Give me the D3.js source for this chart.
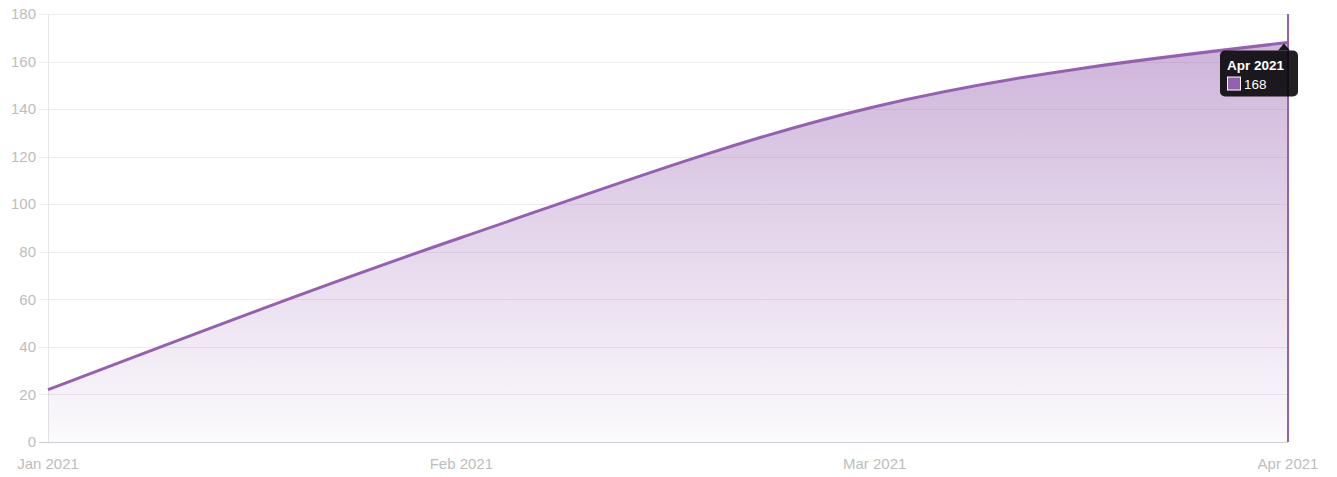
<!DOCTYPE html>
<html>
<head>
<meta charset="utf-8">
<script src="https://cdn.jsdelivr.net/npm/d3@7"></script>
<style>
  body { margin: 0; background: #fff; }
  svg { display: block; font-family: "Liberation Sans", Arial, sans-serif; }
</style>
</head>
<body>
<div id="chart"></div>
<script>
// data
const months = ["Jan 2021", "Feb 2021", "Mar 2021", "Apr 2021"];
const values = [22, 86, 141, 168];
const yTicks = [0, 20, 40, 60, 80, 100, 120, 140, 160, 180];

const width = 1337, height = 477;
const margin = {top: 14, right: 49, bottom: 35, left: 48};
const lineColor = "#9660b0";

const svg = d3.select("#chart").append("svg")
  .attr("width", width)
  .attr("height", height);

const x = d3.scalePoint()
  .domain(months)
  .range([margin.left, width - margin.right]);

const y = d3.scaleLinear()
  .domain([0, 180])
  .range([height - margin.bottom, margin.top]);

// gradient for the area
const grad = svg.append("defs").append("linearGradient")
  .attr("id", "fillGrad")
  .attr("gradientUnits", "userSpaceOnUse")
  .attr("x1", 0).attr("x2", 0)
  .attr("y1", y(180)).attr("y2", y(0));
grad.append("stop").attr("offset", "0%").attr("stop-color", lineColor).attr("stop-opacity", 0.5);
grad.append("stop").attr("offset", "100%").attr("stop-color", lineColor).attr("stop-opacity", 0.03);

// gridlines
svg.append("g")
  .selectAll("line")
  .data(yTicks)
  .join("line")
    .attr("x1", margin.left - 9)
    .attr("x2", width - margin.right)
    .attr("y1", d => Math.round(y(d)) + 0.5)
    .attr("y2", d => Math.round(y(d)) + 0.5)
    .attr("stroke", d => d === 0 ? "#cfcfcf" : "#ececec")
    .attr("stroke-width", 1);

// y axis line
svg.append("line")
  .attr("x1", margin.left + 0.5).attr("x2", margin.left + 0.5)
  .attr("y1", y(180)).attr("y2", y(0))
  .attr("stroke", "#e6e6e6");

// y labels
svg.append("g")
  .selectAll("text")
  .data(yTicks)
  .join("text")
    .attr("x", margin.left - 12)
    .attr("y", d => y(d))
    .attr("dy", "0.35em")
    .attr("text-anchor", "end")
    .attr("font-size", 15)
    .attr("fill", "#bdbdbd")
    .text(d => d);

// x labels
svg.append("g")
  .selectAll("text")
  .data(months)
  .join("text")
    .attr("x", d => x(d))
    .attr("y", height - margin.bottom + 27)
    .attr("text-anchor", "middle")
    .attr("font-size", 15)
    .attr("fill", "#bdbdbd")
    .text(d => d);

const pts = months.map((m, i) => ({m, v: values[i]}));

const area = d3.area()
  .x(d => x(d.m))
  .y0(y(0))
  .y1(d => y(d.v))
  .curve(d3.curveMonotoneX);

const line = d3.line()
  .x(d => x(d.m))
  .y(d => y(d.v))
  .curve(d3.curveMonotoneX);

svg.append("path")
  .datum(pts)
  .attr("d", area)
  .attr("fill", "url(#fillGrad)");

svg.append("path")
  .datum(pts)
  .attr("d", line)
  .attr("fill", "none")
  .attr("stroke", lineColor)
  .attr("stroke-width", 3);

// hover line on last point
const last = pts[pts.length - 1];
svg.append("line")
  .attr("x1", x(last.m)).attr("x2", x(last.m))
  .attr("y1", y(180)).attr("y2", y(0))
  .attr("stroke", lineColor)
  .attr("stroke-width", 2);

// tooltip
const tx = x(last.m), ty = y(last.v);
const tip = svg.append("g").attr("transform", `translate(${tx - 68},${ty + 8})`);
tip.append("path")
  .attr("d", "M58,0 L64,-7 L70,0 Z")
  .attr("fill", "rgba(0,0,0,0.87)");
tip.append("rect")
  .attr("width", 78).attr("height", 46)
  .attr("rx", 5)
  .attr("fill", "rgba(0,0,0,0.87)");
tip.append("text")
  .attr("x", 7).attr("y", 19)
  .attr("font-size", 13.5)
  .attr("font-weight", "bold")
  .attr("fill", "#fff")
  .text(last.m);
tip.append("rect")
  .attr("x", 7.5).attr("y", 26.5)
  .attr("width", 13).attr("height", 13)
  .attr("fill", lineColor)
  .attr("stroke", "#fff")
  .attr("stroke-width", 1);
tip.append("text")
  .attr("x", 24).attr("y", 38)
  .attr("font-size", 13.5)
  .attr("fill", "#fff")
  .text(last.v);
</script>
</body>
</html>
